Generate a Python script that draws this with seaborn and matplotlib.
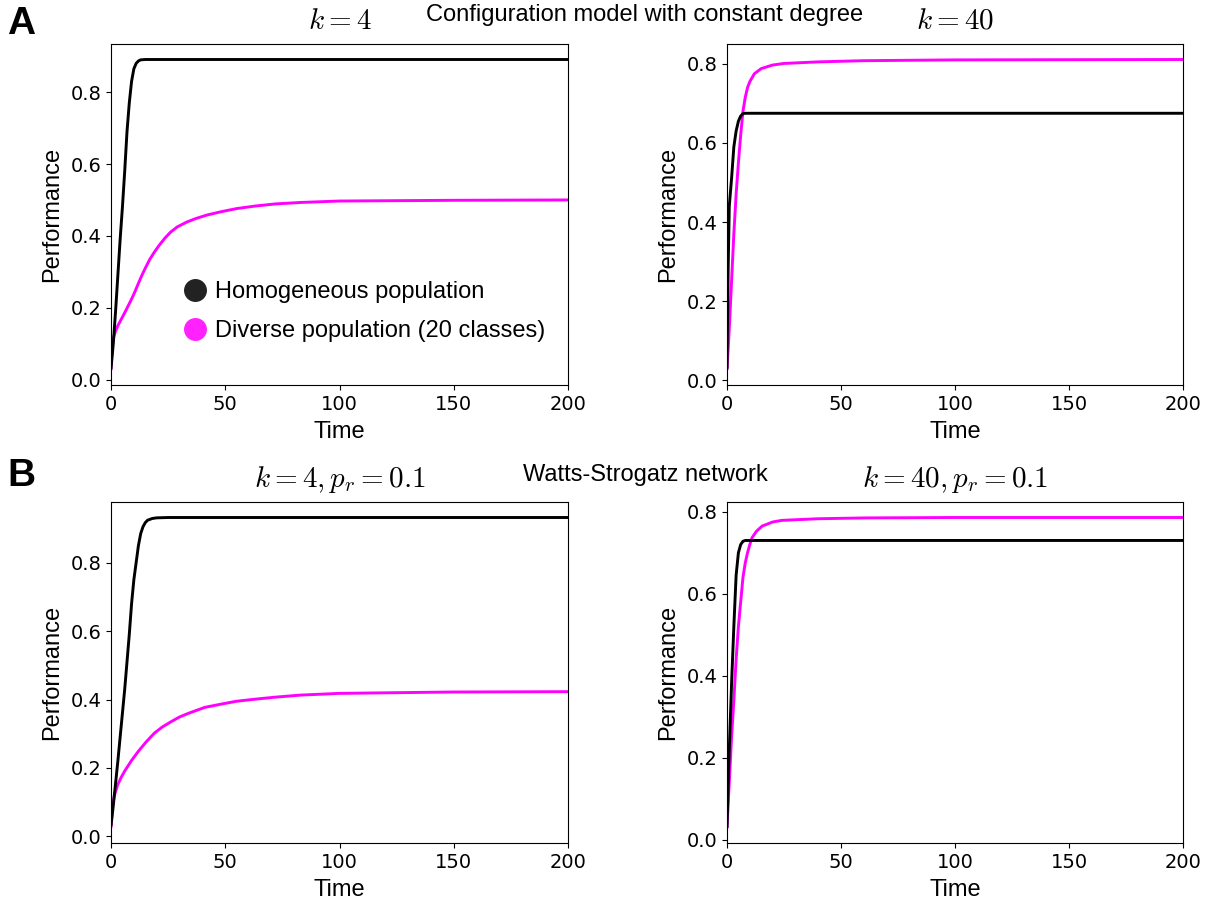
import matplotlib
matplotlib.use("Agg")
import matplotlib.pyplot as plt
from matplotlib.lines import Line2D
import seaborn as sns

# Performance over time for a homogeneous population and a diverse one (20 classes)

# A: configuration model with constant degree, k = 4
cm4_hom_t = [0, 1, 2, 3, 4, 5, 6, 7, 8, 9, 10, 11, 12, 13, 15, 20, 50, 100, 200]
cm4_hom_y = [0.03, 0.10, 0.19, 0.29, 0.39, 0.48, 0.58, 0.69, 0.77, 0.83, 0.865, 0.88,
             0.887, 0.89, 0.891, 0.891, 0.891, 0.891, 0.891]
cm4_div_t = [0, 0.5, 1, 2, 3, 4.5, 6, 7.5, 9, 10.5, 12, 13.5, 15, 17, 19, 21, 23.5, 26,
             29, 33, 37, 42, 48, 55, 63, 72, 83, 100, 125, 150, 200]
cm4_div_y = [0.028, 0.09, 0.115, 0.135, 0.15, 0.168, 0.186, 0.205, 0.224, 0.245, 0.268,
             0.29, 0.31, 0.335, 0.355, 0.373, 0.393, 0.41, 0.425, 0.438, 0.448, 0.458,
             0.467, 0.476, 0.483, 0.489, 0.493, 0.497, 0.498, 0.499, 0.50]

# A: configuration model with constant degree, k = 40
cm40_hom_t = [0, 0.5, 1, 2, 3, 4, 5, 6, 7, 8, 50, 100, 200]
cm40_hom_y = [0.03, 0.28, 0.44, 0.51, 0.59, 0.63, 0.655, 0.668, 0.674, 0.675, 0.675, 0.675, 0.675]
cm40_div_t = [0, 1, 2, 3, 4, 5, 6, 7, 8, 9, 10, 12, 15, 20, 25, 40, 60, 100, 200]
cm40_div_y = [0.027, 0.13, 0.25, 0.37, 0.47, 0.55, 0.62, 0.68, 0.715, 0.74, 0.755, 0.775,
              0.788, 0.797, 0.801, 0.805, 0.808, 0.81, 0.811]

# B: Watts-Strogatz network, k = 4, p_r = 0.1
ws4_hom_t = [0, 1, 2, 3, 4, 5, 6, 7, 8, 9, 10, 11, 12, 13, 14, 15, 16, 18, 20, 25, 100, 200]
ws4_hom_y = [0.031, 0.09, 0.155, 0.22, 0.29, 0.36, 0.43, 0.51, 0.59, 0.68, 0.75, 0.80, 0.85,
             0.885, 0.905, 0.917, 0.924, 0.929, 0.931, 0.932, 0.932, 0.932]
ws4_div_t = [0, 0.7, 1.5, 3, 4.5, 6, 9, 12, 15.5, 19, 22.5, 26.5, 30, 34, 41, 48.5, 55,
             63, 72, 83, 100, 150, 200]
ws4_div_y = [0.026, 0.094, 0.12, 0.152, 0.173, 0.191, 0.222, 0.249, 0.277, 0.302, 0.32,
             0.336, 0.349, 0.36, 0.377, 0.387, 0.395, 0.401, 0.407, 0.413, 0.418, 0.422, 0.423]

# B: Watts-Strogatz network, k = 40, p_r = 0.1
ws40_hom_t = [0, 0.5, 1, 1.5, 2, 3, 4, 5, 6, 7, 8, 100, 200]
ws40_hom_y = [0.03, 0.13, 0.22, 0.30, 0.38, 0.52, 0.645, 0.70, 0.72, 0.728, 0.73, 0.73, 0.73]
ws40_div_t = [0, 1, 2, 3, 4, 5, 6, 7, 8, 9, 10, 11, 13, 15.4, 20, 24, 40, 61, 100, 200]
ws40_div_y = [0.03, 0.14, 0.25, 0.34, 0.44, 0.52, 0.58, 0.64, 0.675, 0.70, 0.72, 0.737,
              0.753, 0.765, 0.775, 0.779, 0.783, 0.785, 0.786, 0.786]

panel_titles = [r"$k=4$", r"$k=40$", r"$k=4, p_r=0.1$", r"$k=40, p_r=0.1$"]
row_titles = ["Configuration model with constant degree", "Watts-Strogatz network"]
legend_labels = ["Homogeneous population", "Diverse population (20 classes)"]
x_ticks = [0, 50, 100, 150, 200]
y_ticks = [0.0, 0.2, 0.4, 0.6, 0.8]

HOM_COLOR = "#000000"
DIV_COLOR = "#ff00ff"

sns.set_theme(style="ticks", rc={
    "axes.edgecolor": "black",
    "axes.linewidth": 0.8,
    "xtick.color": "black",
    "ytick.color": "black",
    "text.color": "black",
    "axes.labelcolor": "black",
    "xtick.labelsize": 14,
    "ytick.labelsize": 14,
    "xtick.major.size": 3.5,
    "ytick.major.size": 3.5,
    "xtick.major.width": 0.8,
    "ytick.major.width": 0.8,
    "xtick.major.pad": 3.5,
    "ytick.major.pad": 3.5,
    "mathtext.fontset": "cm",
})
plt.rcParams["font.family"] = ["DejaVu Sans"]

W, H = 1211, 900
fig = plt.figure(figsize=(W / 100, H / 100), dpi=100)

def px_axes(x0, y0, x1, y1):
    return fig.add_axes([x0 / W, 1 - y1 / H, (x1 - x0) / W, (y1 - y0) / H])

axes = [
    px_axes(111, 44, 568, 385),
    px_axes(727, 44, 1183, 385),
    px_axes(111, 502, 568, 843),
    px_axes(727, 502, 1183, 843),
]

series = [
    (cm4_hom_t, cm4_hom_y, cm4_div_t, cm4_div_y),
    (cm40_hom_t, cm40_hom_y, cm40_div_t, cm40_div_y),
    (ws4_hom_t, ws4_hom_y, ws4_div_t, ws4_div_y),
    (ws40_hom_t, ws40_hom_y, ws40_div_t, ws40_div_y),
]

label_font = dict(family="Liberation Sans", size=17)

for ax, (ht, hy, dt, dy), title in zip(axes, series, panel_titles):
    sns.lineplot(x=dt, y=dy, ax=ax, color=DIV_COLOR, lw=2.1, zorder=2)
    sns.lineplot(x=ht, y=hy, ax=ax, color=HOM_COLOR, lw=2.1, zorder=3)
    ax.set_xlim(0, 200)
    ax.set_xticks(x_ticks)
    ax.set_yticks(y_ticks)
    ax.set_xlabel("Time", fontdict=label_font, labelpad=5.5)
    ax.set_ylabel("Performance", fontdict=label_font, labelpad=5)
    ax.set_title(title, fontsize=21, pad=11)
    for side in ["top", "right", "left", "bottom"]:
        ax.spines[side].set_visible(True)

handles = [
    Line2D([], [], ls="", marker="o", markersize=15.5, color="#222222"),
    Line2D([], [], ls="", marker="o", markersize=15.5, color="#ff22ff"),
]
axes[0].legend(handles, legend_labels, loc="center left",
               bbox_to_anchor=(0.132, 0.216), frameon=False, borderpad=0,
               handlelength=1.0, handletextpad=0.35, labelspacing=0.72,
               prop=dict(family="Liberation Sans", size=17))

fig.text(645 / W, 1 - 20.5 / H, row_titles[0], ha="center", va="baseline",
         family="Liberation Sans", fontsize=17)
fig.text(645 / W, 1 - 481.5 / H, row_titles[1], ha="center", va="baseline",
         family="Liberation Sans", fontsize=17)
fig.text(7 / W, 1 - 34 / H, "A", ha="left", va="baseline",
         family="Liberation Sans", fontweight="bold", fontsize=28)
fig.text(7 / W, 1 - 486 / H, "B", ha="left", va="baseline",
         family="Liberation Sans", fontweight="bold", fontsize=28)

fig.savefig("out.png", dpi=100)
